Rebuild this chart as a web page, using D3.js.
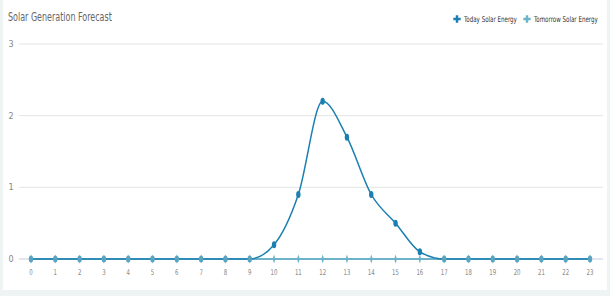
<!DOCTYPE html>
<html>
<head>
<meta charset="utf-8">
<script src="https://cdn.jsdelivr.net/npm/d3@7"></script>
<style>
  body { margin: 0; background: #eef3f4; }
  svg { display: block; }
</style>
</head>
<body>
<div id="chart"></div>
<script>
// data
var hours = [0,1,2,3,4,5,6,7,8,9,10,11,12,13,14,15,16,17,18,19,20,21,22,23];
var todayValues = [0,0,0,0,0,0,0,0,0,0,0.2,0.9,2.2,1.7,0.9,0.5,0.1,0,0,0,0,0,0,0];
var tomorrowValues = [0,0,0,0,0,0,0,0,0,0,0,0,0,0,0,0,0,0,0,0,0,0,0,0];
var yTicks = [0,1,2,3];
var seriesNames = ["Today Solar Energy", "Tomorrow Solar Energy"];
var colors = ["#1b7fb1", "#6db4cb"];

var w = 610, h = 296;
var margin = { top: 44, right: 7, bottom: 37, left: 19 };
var font = "Liberation Sans Narrow, DejaVu Sans Condensed, sans-serif";

var svg = d3.select("#chart").append("svg")
  .attr("width", w)
  .attr("height", h);

// squeeze a text horizontally so it spans the given width
function fitWidth(sel, x0, width) {
  sel.each(function() {
    var len = this.getComputedTextLength();
    var k = width / len;
    d3.select(this).attr("transform", "translate(" + x0 + ",0) scale(" + k + ",1) translate(" + (-x0) + ",0)");
  });
}

// white panel
svg.append("rect")
  .attr("x", 3).attr("y", 0)
  .attr("width", 604).attr("height", 290)
  .attr("fill", "#fff");

var x = d3.scalePoint().domain(hours).range([31, 590]);
var y = d3.scaleLinear().domain([0, 3]).range([259, 44]);

// grid
svg.append("g").selectAll("line")
  .data(yTicks.filter(function(d) { return d > 0; }))
  .enter().append("line")
  .attr("x1", margin.left).attr("x2", 603)
  .attr("y1", function(d) { return y(d); })
  .attr("y2", function(d) { return y(d); })
  .attr("stroke", "#e4e4e4");

// y labels
svg.append("g").selectAll("text")
  .data(yTicks)
  .enter().append("text")
  .attr("x", 11)
  .attr("y", function(d) { return y(d) + 3; })
  .attr("text-anchor", "middle")
  .attr("font-family", font)
  .attr("font-size", 9)
  .attr("fill", "#888")
  .text(function(d) { return d; });

// x axis line
svg.append("line")
  .attr("x1", margin.left).attr("x2", 603)
  .attr("y1", y(0)).attr("y2", y(0))
  .attr("stroke", "#c6cde0");

// x labels
svg.append("g").selectAll("text")
  .data(hours)
  .enter().append("text")
  .attr("x", function(d) { return x(d); })
  .attr("y", 275)
  .attr("text-anchor", "middle")
  .attr("font-family", font)
  .attr("font-size", 8)
  .attr("fill", "#888")
  .attr("transform", function(d) { return "translate(" + x(d) + ",0) scale(0.75,1) translate(" + (-x(d)) + ",0)"; })
  .text(function(d) { return d; });

var line = d3.line()
  .x(function(d, i) { return x(hours[i]); })
  .y(function(d) { return y(d); })
  .curve(d3.curveMonotoneX);

// tomorrow series
svg.append("path")
  .datum(tomorrowValues)
  .attr("d", line)
  .attr("fill", "none")
  .attr("stroke", colors[1])
  .attr("stroke-width", 2);

svg.append("g").selectAll("path")
  .data(tomorrowValues)
  .enter().append("path")
  .attr("d", d3.symbol().type(d3.symbolDiamond).size(14))
  .attr("transform", function(d, i) { return "translate(" + x(hours[i]) + "," + y(d) + ") scale(0.7,1.3)"; })
  .attr("fill", colors[1]);

// today series
svg.append("path")
  .datum(todayValues)
  .attr("d", line)
  .attr("fill", "none")
  .attr("stroke", colors[0])
  .attr("stroke-width", 1.5);

svg.append("g").selectAll("ellipse")
  .data(todayValues)
  .enter().append("ellipse")
  .attr("cx", function(d, i) { return x(hours[i]); })
  .attr("cy", function(d) { return y(d); })
  .attr("rx", 2.2)
  .attr("ry", 3.5)
  .attr("fill", function(d) { return d > 0 ? colors[0] : "#5aa3c1"; });

// title
svg.append("text")
  .attr("x", 8).attr("y", 21)
  .attr("font-family", font)
  .attr("font-size", 12)
  .attr("fill", "#666")
  .text("Solar Generation Forecast")
  .call(fitWidth, 8, 104);

// legend
var legendPos = [{ mx: 457, tx: 464, tl: 53 }, { mx: 527, tx: 534, tl: 64 }];
var legend = svg.append("g").selectAll("g")
  .data(seriesNames)
  .enter().append("g");

legend.append("path")
  .attr("d", d3.symbol().type(d3.symbolCross).size(30))
  .attr("transform", function(d, i) { return "translate(" + legendPos[i].mx + ",19)"; })
  .attr("fill", function(d, i) { return colors[i]; });

legend.append("text")
  .attr("x", function(d, i) { return legendPos[i].tx; })
  .attr("y", 22)
  .attr("font-family", font)
  .attr("font-size", 8)
  .attr("fill", "#333")
  .text(function(d) { return d; })
  .each(function(d, i) { d3.select(this).call(fitWidth, legendPos[i].tx, legendPos[i].tl); });
</script>
</body>
</html>
